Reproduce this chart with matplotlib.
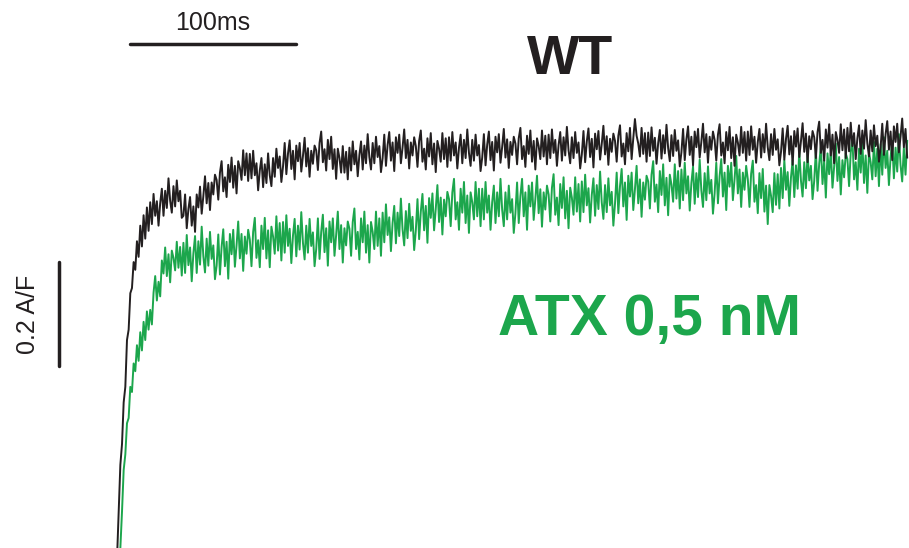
import numpy as np
import matplotlib
matplotlib.use('Agg')
import matplotlib.pyplot as plt

plt.rcParams['font.family'] = ['Liberation Sans', 'DejaVu Sans']

# temps d'echantillonnage (ms), un point par ms
temps = np.arange(0, 477, 1)

# trace WT (A/F), 20 points par ligne
wt = [
    -0.02, 0.07, 0.16, 0.20, 0.28, 0.31, 0.40, 0.42, 0.49, 0.50, 0.55, 0.535, 0.59, 0.56, 0.62, 0.58, 0.64, 0.595, 0.655, 0.61,
    0.665, 0.623, 0.681, 0.639, 0.667, 0.620, 0.663, 0.691, 0.639, 0.687, 0.654, 0.711, 0.668, 0.645, 0.696, 0.657, 0.707, 0.667, 0.687, 0.635,
    0.639, 0.68, 0.615, 0.652, 0.675, 0.62, 0.657, 0.608, 0.68, 0.655, 0.695, 0.643, 0.677, 0.715, 0.663, 0.702, 0.65, 0.703, 0.68, 0.718,
    0.708, 0.670, 0.722, 0.744, 0.686, 0.713, 0.675, 0.737, 0.704, 0.751, 0.693, 0.735, 0.682, 0.744, 0.731, 0.708, 0.765, 0.717, 0.759, 0.706,
    0.758, 0.711, 0.764, 0.717, 0.740, 0.688, 0.726, 0.750, 0.694, 0.738, 0.702, 0.759, 0.717, 0.696, 0.750, 0.714, 0.768, 0.731, 0.753, 0.704,
    0.734, 0.779, 0.719, 0.759, 0.784, 0.729, 0.764, 0.709, 0.774, 0.744, 0.779, 0.724, 0.754, 0.789, 0.734, 0.769, 0.714, 0.764, 0.739, 0.774,
    0.765, 0.727, 0.779, 0.801, 0.742, 0.767, 0.726, 0.785, 0.748, 0.791, 0.729, 0.767, 0.710, 0.768, 0.750, 0.722, 0.773, 0.722, 0.762, 0.709,
    0.77, 0.726, 0.782, 0.738, 0.764, 0.715, 0.756, 0.782, 0.728, 0.774, 0.740, 0.796, 0.752, 0.728, 0.779, 0.740, 0.791, 0.752, 0.773, 0.723,
    0.75, 0.795, 0.735, 0.775, 0.80, 0.745, 0.78, 0.725, 0.79, 0.76, 0.795, 0.74, 0.77, 0.805, 0.75, 0.785, 0.73, 0.78, 0.755, 0.79,
    0.773, 0.733, 0.783, 0.803, 0.743, 0.768, 0.728, 0.788, 0.753, 0.798, 0.738, 0.778, 0.723, 0.783, 0.768, 0.743, 0.798, 0.748, 0.788, 0.733,
    0.79, 0.745, 0.80, 0.755, 0.78, 0.73, 0.77, 0.795, 0.74, 0.785, 0.75, 0.805, 0.76, 0.735, 0.785, 0.745, 0.795, 0.755, 0.775, 0.725,
    0.751, 0.796, 0.736, 0.776, 0.801, 0.746, 0.781, 0.726, 0.791, 0.761, 0.796, 0.741, 0.771, 0.806, 0.751, 0.786, 0.731, 0.781, 0.756, 0.791,
    0.778, 0.738, 0.788, 0.808, 0.748, 0.773, 0.733, 0.793, 0.758, 0.803, 0.743, 0.783, 0.728, 0.788, 0.773, 0.748, 0.803, 0.753, 0.793, 0.738,
    0.795, 0.75, 0.805, 0.76, 0.785, 0.735, 0.775, 0.80, 0.745, 0.79, 0.755, 0.81, 0.765, 0.74, 0.79, 0.75, 0.80, 0.76, 0.78, 0.73,
    0.757, 0.802, 0.742, 0.782, 0.807, 0.752, 0.787, 0.732, 0.797, 0.767, 0.802, 0.747, 0.777, 0.812, 0.757, 0.792, 0.737, 0.787, 0.762, 0.797,
    0.783, 0.743, 0.793, 0.813, 0.753, 0.778, 0.738, 0.798, 0.763, 0.808, 0.748, 0.788, 0.825, 0.793, 0.778, 0.753, 0.808, 0.758, 0.798, 0.743,
    0.799, 0.754, 0.809, 0.764, 0.789, 0.739, 0.779, 0.804, 0.749, 0.794, 0.759, 0.814, 0.769, 0.744, 0.794, 0.754, 0.804, 0.764, 0.784, 0.734,
    0.761, 0.806, 0.746, 0.786, 0.811, 0.756, 0.791, 0.736, 0.801, 0.771, 0.806, 0.751, 0.781, 0.816, 0.761, 0.796, 0.741, 0.791, 0.766, 0.801,
    0.785, 0.745, 0.795, 0.815, 0.755, 0.78, 0.74, 0.80, 0.765, 0.81, 0.75, 0.79, 0.735, 0.795, 0.78, 0.755, 0.81, 0.76, 0.80, 0.745,
    0.801, 0.756, 0.811, 0.766, 0.791, 0.741, 0.781, 0.806, 0.751, 0.796, 0.761, 0.816, 0.771, 0.746, 0.796, 0.756, 0.806, 0.766, 0.786, 0.736,
    0.762, 0.807, 0.747, 0.787, 0.812, 0.757, 0.792, 0.737, 0.802, 0.772, 0.807, 0.752, 0.782, 0.817, 0.762, 0.797, 0.742, 0.792, 0.767, 0.802,
    0.79, 0.75, 0.80, 0.82, 0.76, 0.785, 0.745, 0.805, 0.77, 0.815, 0.755, 0.795, 0.74, 0.80, 0.785, 0.76, 0.815, 0.765, 0.805, 0.75,
    0.808, 0.763, 0.818, 0.773, 0.798, 0.748, 0.788, 0.813, 0.758, 0.803, 0.768, 0.823, 0.778, 0.753, 0.803, 0.763, 0.813, 0.773, 0.793, 0.743,
    0.771, 0.816, 0.756, 0.796, 0.821, 0.766, 0.801, 0.746, 0.811, 0.781, 0.816, 0.761, 0.791, 0.826, 0.771, 0.806, 0.751,
]

# trace ATX 0,5 nM (A/F), 20 points par ligne
atx = [
    -0.06, -0.03, 0.0, 0.07, 0.15, 0.18, 0.24, 0.25, 0.31, 0.30, 0.355, 0.34, 0.39, 0.36, 0.415, 0.38, 0.435, 0.40, 0.455, 0.42,
    0.458, 0.43, 0.491, 0.523, 0.476, 0.512, 0.484, 0.553, 0.528, 0.578, 0.523, 0.565, 0.511, 0.572, 0.558, 0.534, 0.589, 0.539, 0.579, 0.524,
    0.587, 0.529, 0.602, 0.544, 0.578, 0.513, 0.567, 0.600, 0.529, 0.590, 0.545, 0.618, 0.561, 0.530, 0.595, 0.543, 0.608, 0.556, 0.582, 0.517,
    0.543, 0.603, 0.526, 0.579, 0.613, 0.542, 0.589, 0.518, 0.604, 0.565, 0.612, 0.541, 0.582, 0.628, 0.557, 0.604, 0.533, 0.599, 0.566, 0.612,
    0.593, 0.542, 0.608, 0.635, 0.558, 0.592, 0.540, 0.620, 0.575, 0.635, 0.557, 0.611, 0.540, 0.618, 0.599, 0.566, 0.638, 0.572, 0.625, 0.553,
    0.627, 0.568, 0.64, 0.581, 0.614, 0.548, 0.601, 0.633, 0.561, 0.62, 0.574, 0.646, 0.587, 0.555, 0.62, 0.568, 0.633, 0.581, 0.607, 0.542,
    0.575, 0.634, 0.556, 0.608, 0.641, 0.569, 0.615, 0.543, 0.628, 0.588, 0.634, 0.562, 0.602, 0.647, 0.575, 0.621, 0.549, 0.615, 0.582, 0.628,
    0.614, 0.562, 0.627, 0.653, 0.575, 0.608, 0.555, 0.634, 0.588, 0.647, 0.568, 0.621, 0.549, 0.627, 0.608, 0.575, 0.647, 0.581, 0.634, 0.562,
    0.645, 0.588, 0.661, 0.602, 0.636, 0.571, 0.625, 0.658, 0.586, 0.645, 0.60, 0.672, 0.613, 0.582, 0.648, 0.596, 0.662, 0.61, 0.637, 0.573,
    0.611, 0.671, 0.594, 0.647, 0.681, 0.611, 0.658, 0.587, 0.673, 0.635, 0.682, 0.611, 0.652, 0.698, 0.627, 0.674, 0.603, 0.670, 0.638, 0.685,
    0.671, 0.619, 0.684, 0.71, 0.632, 0.665, 0.612, 0.691, 0.645, 0.704, 0.625, 0.678, 0.606, 0.684, 0.665, 0.632, 0.704, 0.638, 0.691, 0.619,
    0.691, 0.632, 0.704, 0.645, 0.678, 0.612, 0.665, 0.697, 0.625, 0.684, 0.638, 0.71, 0.651, 0.619, 0.684, 0.632, 0.697, 0.645, 0.671, 0.606,
    0.644, 0.703, 0.625, 0.677, 0.71, 0.638, 0.684, 0.612, 0.697, 0.657, 0.703, 0.631, 0.671, 0.716, 0.644, 0.69, 0.618, 0.684, 0.651, 0.697,
    0.68, 0.628, 0.693, 0.719, 0.641, 0.674, 0.621, 0.70, 0.654, 0.713, 0.634, 0.687, 0.615, 0.693, 0.674, 0.641, 0.713, 0.647, 0.70, 0.628,
    0.705, 0.646, 0.718, 0.659, 0.692, 0.626, 0.679, 0.711, 0.639, 0.698, 0.652, 0.724, 0.665, 0.633, 0.698, 0.646, 0.711, 0.659, 0.685, 0.62,
    0.663, 0.722, 0.644, 0.696, 0.729, 0.657, 0.703, 0.631, 0.716, 0.676, 0.722, 0.65, 0.69, 0.735, 0.663, 0.709, 0.637, 0.703, 0.67, 0.716,
    0.705, 0.653, 0.718, 0.744, 0.666, 0.699, 0.646, 0.725, 0.679, 0.738, 0.659, 0.712, 0.64, 0.718, 0.699, 0.666, 0.738, 0.672, 0.725, 0.653,
    0.728, 0.669, 0.741, 0.682, 0.715, 0.649, 0.702, 0.734, 0.662, 0.721, 0.675, 0.747, 0.688, 0.656, 0.721, 0.669, 0.734, 0.682, 0.708, 0.643,
    0.682, 0.741, 0.663, 0.715, 0.748, 0.676, 0.722, 0.65, 0.735, 0.695, 0.741, 0.669, 0.709, 0.754, 0.682, 0.728, 0.656, 0.722, 0.689, 0.735,
    0.709, 0.656, 0.72, 0.745, 0.666, 0.698, 0.644, 0.721, 0.673, 0.729, 0.647, 0.697, 0.623, 0.698, 0.677, 0.646, 0.721, 0.66, 0.719, 0.653,
    0.731, 0.673, 0.746, 0.689, 0.723, 0.658, 0.713, 0.746, 0.675, 0.736, 0.691, 0.764, 0.707, 0.676, 0.742, 0.692, 0.758, 0.707, 0.735, 0.671,
    0.706, 0.765, 0.687, 0.739, 0.772, 0.70, 0.746, 0.674, 0.759, 0.719, 0.765, 0.693, 0.733, 0.778, 0.706, 0.752, 0.68, 0.746, 0.713, 0.759,
    0.748, 0.696, 0.761, 0.787, 0.709, 0.742, 0.689, 0.768, 0.722, 0.781, 0.702, 0.755, 0.683, 0.761, 0.742, 0.709, 0.781, 0.715, 0.768, 0.696,
    0.777, 0.718, 0.79, 0.731, 0.764, 0.698, 0.751, 0.783, 0.711, 0.77, 0.724, 0.796, 0.737, 0.705, 0.77, 0.718, 0.783,
]

noir = '#231f20'
vert = '#1ca64c'

fig = plt.figure(figsize=(9.09, 5.48), dpi=100)
ax = fig.add_axes([0, 0, 1, 1])

ax.plot(temps, atx, color=vert, lw=1.4)
ax.plot(temps, wt, color=noir, lw=1.4)

# barres d'echelle
ax.plot([7.8, 107.8], [0.969, 0.969], color=noir, lw=2.5, solid_capstyle='round')
ax.text(57.8, 1.01, '100ms', ha='center', va='center', fontsize=18, color=noir)
ax.plot([-35, -35], [0.35, 0.55], color=noir, lw=2.5, solid_capstyle='round')
ax.text(-53.5, 0.45, '0.2 A/F', ha='center', va='center', rotation=90,
        fontsize=18, color=noir)

ax.text(273, 0.938, 'WT', ha='center', va='center', fontsize=40,
        fontweight='bold', color=noir)
ax.text(321, 0.438, 'ATX 0,5 nM', ha='center', va='center', fontsize=41,
        fontweight='bold', color=vert)

ax.set_xlim(-70.5, 477.1)
ax.set_ylim(0, 1.054)
ax.axis('off')

fig.savefig('out.png', dpi=100)
